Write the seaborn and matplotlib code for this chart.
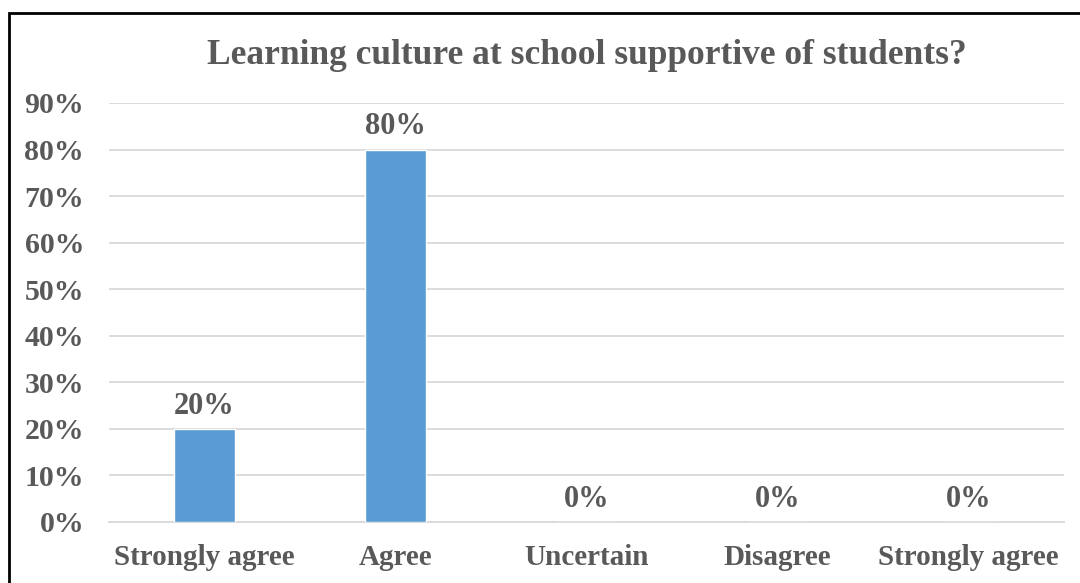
import matplotlib
matplotlib.use("Agg")
import matplotlib.pyplot as plt
from matplotlib.patches import Rectangle
import seaborn as sns
import pandas as pd

categories = ["Strongly agree", "Agree", "Uncertain", "Disagree", "Strongly agree "]
values = [20, 80, 0, 0, 0]
y_ticks = [0, 10, 20, 30, 40, 50, 60, 70, 80, 90]
title = "Learning culture at school supportive of students?"

sns.set_theme(style="white")
plt.rcParams["font.family"] = ["Liberation Serif", "DejaVu Serif"]
plt.rcParams["font.weight"] = "bold"

text_color = "#595959"
bar_color = "#5B9BD5"
grid_color = "#D9D9D9"

df = pd.DataFrame({"category": categories, "value": values})

fig = plt.figure(figsize=(10.8, 5.83), dpi=100)
ax = fig.add_axes([109 / 1080, 1 - 522 / 583, (1064 - 109) / 1080, (522 - 103) / 583])

sns.barplot(data=df, x="category", y="value", color=bar_color, width=0.315,
            saturation=1, ax=ax, zorder=3)

ax.set_ylim(0, 90)
ax.set_yticks(y_ticks)
ax.set_yticklabels([f"{t}%" for t in y_ticks], fontsize=21.5, fontweight="bold",
                   color=text_color)
ax.set_xticks(range(len(categories)))
ax.set_xticklabels([c.strip() for c in categories], fontsize=21, fontweight="bold",
                   color=text_color)
ax.set_xlabel("")
ax.set_ylabel("")
ax.tick_params(axis="both", length=0)
ax.tick_params(axis="y", pad=18)
ax.tick_params(axis="x", pad=16)

ax.yaxis.grid(True, color=grid_color, linewidth=1.3, zorder=0)
ax.set_axisbelow(True)
for side in ["top", "right", "left"]:
    ax.spines[side].set_visible(False)
ax.spines["bottom"].set_color(grid_color)
ax.spines["bottom"].set_linewidth(1.3)

for i, v in enumerate(values):
    ax.text(i, v + 1.8, f"{v}%", ha="center", va="bottom", fontsize=22,
            fontweight="bold", color=text_color)

fig.text((109 + 1064) / 2 / 1080, 1 - 56 / 583, title, ha="center", va="center",
         fontsize=25.5, fontweight="bold", color=text_color)

# outer frame
fig.patches.append(Rectangle((8.5 / 1080, -0.05), 1.2, 1 - 13 / 583 + 0.05,
                             transform=fig.transFigure, fill=False,
                             edgecolor="black", linewidth=2, zorder=10))

fig.savefig("out.png", dpi=100, facecolor="white")
